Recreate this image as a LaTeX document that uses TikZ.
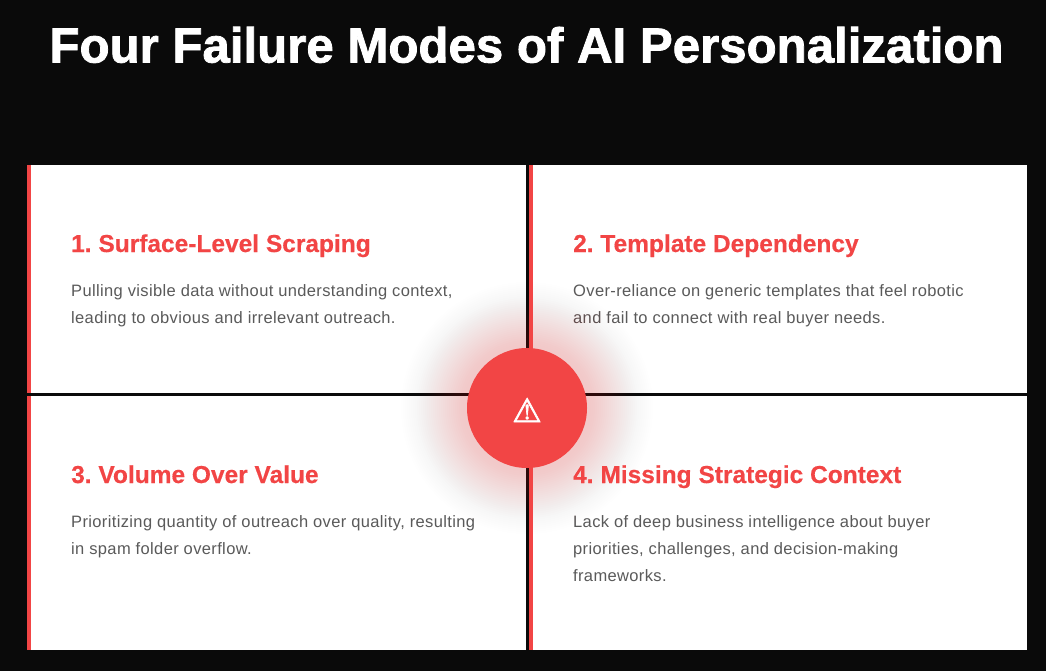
\documentclass[tikz,border=0pt]{standalone}
\usepackage{fontspec}
\setmainfont{Liberation Sans}
\newfontfamily\warnfont[FakeBold=2]{DejaVu Sans}
\newfontfamily\titlefont[FakeBold=1.6]{Liberation Sans Bold}
\newfontfamily\headfont[FakeBold=0.4]{Liberation Sans Bold}
\newfontfamily\copyfont[LetterSpace=2.2]{Liberation Sans}
\definecolor{pagebg}{HTML}{0A0A0A}
\definecolor{accent}{HTML}{F24545}
\definecolor{bodygray}{HTML}{5A5A5A}
\tikzset{
  x=1pt,y=-1pt,
  card/.style={fill=white,draw=none},
  stripe/.style={fill=accent,draw=none},
  heading/.style={anchor=base west,inner sep=0pt,text=accent,font=\frenchspacing\headfont\fontsize{24.5}{29}\selectfont},
  bodytext/.style={anchor=base west,inner sep=0pt,text=bodygray,font=\frenchspacing\copyfont\fontsize{16.5}{27}\selectfont,align=left},
  titletext/.style={anchor=base,inner sep=0pt,text=white,font=\titlefont\fontsize{49.2}{56}\selectfont},
}
\begin{document}
\begin{tikzpicture}
\useasboundingbox (0,0) rectangle (1046,671);
\fill[pagebg] (0,0) rectangle (1046,671);
\fill[card] (27,165) rectangle (526,392.5);
\fill[card] (529,165) rectangle (1027,392.5);
\fill[card] (27,395.5) rectangle (526,650);
\fill[card] (529,395.5) rectangle (1027,650);
\fill[stripe] (27,165) rectangle (31,392.5);
\fill[stripe] (529,165) rectangle (533,392.5);
\fill[stripe] (27,395.5) rectangle (31,650);
\fill[stripe] (529,395.5) rectangle (533,650);
\node[titletext] (title) at (526.5,62.5) {Four Failure Modes of AI Personalization};
\node[heading] (h1) at (71,252) {1. Surface-Level Scraping};
\node[heading] (h2) at (573,252) {2. Template Dependency};
\node[heading] (h3) at (71,483) {3. Volume Over Value};
\node[heading] (h4) at (573,483) {4. Missing Strategic Context};
\node[bodytext] (b1a) at (71,296.5) {Pulling visible data without understanding context,};
\node[bodytext] (b1b) at (71,323.5) {leading to obvious and irrelevant outreach.};
\node[bodytext] (b2a) at (573,296.5) {Over-reliance on generic templates that feel robotic};
\node[bodytext] (b2b) at (573,323.5) {and fail to connect with real buyer needs.};
\node[bodytext] (b3a) at (71,527.5) {Prioritizing quantity of outreach over quality, resulting};
\node[bodytext] (b3b) at (71,554.5) {in spam folder overflow.};
\node[bodytext] (b4a) at (573,527.5) {Lack of deep business intelligence about buyer};
\node[bodytext] (b4b) at (573,554.5) {priorities, challenges, and decision-making};
\node[bodytext] (b4c) at (573,581.5) {frameworks.};
\foreach \d in {100,98,...,2}{
  \pgfmathsetmacro{\op}{2*0.28*2*\d/1296*exp(-(\d/36)^2)}
  \pgfmathsetmacro{\rr}{60+\d}
  \fill[accent,opacity=\op] (527,408) circle (\rr);
}
\node[circle,fill=accent,draw=none,minimum size=120pt,inner sep=0pt] (badge) at (527,408) {};
\node[anchor=center,inner sep=0pt,text=white,font=\warnfont\fontsize{33}{33}\selectfont] (warn) at (527,410) {⚠};
\end{tikzpicture}
\end{document}
